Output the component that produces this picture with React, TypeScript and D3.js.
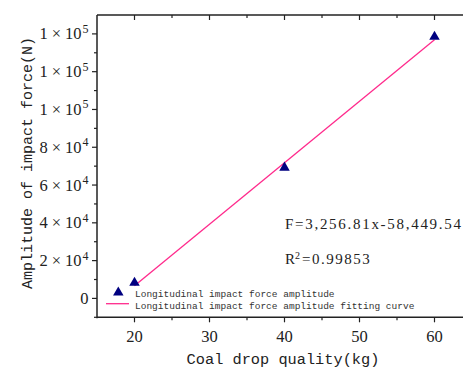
import React, { useEffect, useRef } from "react";
import * as d3 from "d3";

const massKg = [20, 40, 60];
const forceN = [8250, 69200, 138450];
const fitMass = [20, 60];
const fitForce = [6686.66, 136958.86];

const xTicks = [20, 30, 40, 50, 60];
const xMinorTicks = [25, 35, 45, 55];
const yTicks = [0, 20000, 40000, 60000, 80000, 100000, 120000, 140000];
const yMinorTicks = [-10000, 10000, 30000, 50000, 70000, 90000, 110000, 130000];
const yTickMantissa = ["0", "2", "4", "6", "8", "1", "1", "1"];
const yTickExponent = ["", "4", "4", "4", "4", "5", "5", "5"];

const legendLabels = [
  "Longitudinal impact force amplitude",
  "Longitudinal impact force amplitude fitting curve",
];
const xTitle = "Coal drop quality(kg)";
const yTitle = "Amplitude of impact force(N)";
const equationText = "F=3,256.81x-58,449.54";
const r2Value = "=0.99853";

const W = 463;
const H = 367;
const left = 97;
const right = 472;
const top = 15;
const bottom = 317.3;
const axisColor = "#222";
const markColor = "#000080";
const lineColor = "#ff2a8c";
const serif = "'Liberation Serif', 'Times New Roman', serif";
const mono = "'Liberation Mono', monospace";

export default function App() {
  const ref = useRef<SVGSVGElement>(null);

  useEffect(() => {
    const svg = d3.select(ref.current);
    svg.selectAll("*").remove();

    const x = d3.scaleLinear().domain([15, 65]).range([left, right]);
    const y = d3.scaleLinear().domain([-10000, 150000]).range([bottom, top]);

    svg.append("line").attr("x1", left).attr("x2", W).attr("y1", bottom).attr("y2", bottom)
      .attr("stroke", axisColor).attr("stroke-width", 1.5);
    svg.append("line").attr("x1", left).attr("x2", W).attr("y1", top).attr("y2", top)
      .attr("stroke", axisColor).attr("stroke-width", 1.5);
    svg.append("line").attr("x1", left).attr("x2", left).attr("y1", top).attr("y2", bottom + 1)
      .attr("stroke", axisColor).attr("stroke-width", 1.5);

    const g = svg.append("g");
    xTicks.forEach((v) => {
      g.append("line").attr("x1", x(v)).attr("x2", x(v)).attr("y1", bottom).attr("y2", bottom + 5)
        .attr("stroke", axisColor).attr("stroke-width", 1.2);
      g.append("line").attr("x1", x(v)).attr("x2", x(v)).attr("y1", top).attr("y2", top + 5)
        .attr("stroke", axisColor).attr("stroke-width", 1.2);
      g.append("text").attr("x", x(v)).attr("y", 341.5).attr("text-anchor", "middle")
        .attr("font-family", serif).attr("font-size", 16.5).attr("fill", "#222").text(String(v));
    });
    xMinorTicks.forEach((v) => {
      g.append("line").attr("x1", x(v)).attr("x2", x(v)).attr("y1", bottom).attr("y2", bottom + 3)
        .attr("stroke", axisColor).attr("stroke-width", 1.2);
      g.append("line").attr("x1", x(v)).attr("x2", x(v)).attr("y1", top).attr("y2", top + 3)
        .attr("stroke", axisColor).attr("stroke-width", 1.2);
    });

    yTicks.forEach((v, i) => {
      g.append("line").attr("x1", left - 5).attr("x2", left).attr("y1", y(v)).attr("y2", y(v))
        .attr("stroke", axisColor).attr("stroke-width", 1.2);
      const t = g.append("text").attr("x", 88.5).attr("y", y(v) + 5.5).attr("text-anchor", "end")
        .attr("font-family", serif).attr("font-size", 16.5).attr("fill", "#222");
      if (yTickExponent[i] === "") {
        t.text(yTickMantissa[i]);
      } else {
        t.append("tspan").text(yTickMantissa[i]);
        t.append("tspan").attr("dx", 4).text("×");
        t.append("tspan").attr("dx", 4).text("10");
        t.append("tspan").attr("dx", 1).attr("dy", -6.5).attr("font-size", 12).text(yTickExponent[i]);
      }
    });
    yMinorTicks.forEach((v) => {
      g.append("line").attr("x1", left - 3).attr("x2", left).attr("y1", y(v)).attr("y2", y(v))
        .attr("stroke", axisColor).attr("stroke-width", 1.2);
    });

    const line = d3.line<number>().x((d, i) => x(fitMass[i])).y((d) => y(d));
    svg.append("path").attr("d", line(fitForce) as string).attr("fill", "none")
      .attr("stroke", lineColor).attr("stroke-width", 1.3);

    const tri = d3.symbol().type(d3.symbolTriangle).size(48);
    massKg.forEach((m, i) => {
      svg.append("path").attr("d", tri() as string)
        .attr("transform", `translate(${x(m)},${y(forceN[i])})`).attr("fill", markColor);
    });

    svg.append("path").attr("d", tri() as string).attr("transform", "translate(118.3,292.5)")
      .attr("fill", markColor);
    svg.append("line").attr("x1", 106).attr("x2", 129).attr("y1", 303.7).attr("y2", 303.7)
      .attr("stroke", lineColor).attr("stroke-width", 1.3);
    legendLabels.forEach((l, i) => {
      svg.append("text").attr("x", 135).attr("y", 296.5 + i * 12).attr("font-family", mono)
        .attr("font-size", 9.5).attr("fill", "#333").text(l);
    });

    svg.append("text").attr("x", 285).attr("y", 228.5).attr("font-family", serif).attr("font-size", 15)
      .attr("fill", "#222").attr("textLength", 176).attr("lengthAdjust", "spacing").text(equationText);
    const r2 = svg.append("text").attr("x", 285).attr("y", 264).attr("font-family", serif)
      .attr("font-size", 15).attr("fill", "#222");
    r2.append("tspan").text("R");
    r2.append("tspan").attr("dy", -5).attr("font-size", 10).text("2");
    r2.append("tspan").attr("dy", 5).attr("dx", 2).attr("letter-spacing", 1.5).text(r2Value);

    svg.append("text").attr("x", 283).attr("y", 363.5).attr("text-anchor", "middle")
      .attr("font-family", mono).attr("font-size", 15.3).attr("fill", "#222").text(xTitle);
    svg.append("text").attr("transform", "translate(32,163) rotate(-90)").attr("text-anchor", "middle")
      .attr("font-family", mono).attr("font-size", 15).attr("fill", "#222").text(yTitle);
  }, []);

  return (
    <svg ref={ref} width={W} height={H}
      style={{ position: "absolute", left: 0, top: 0, background: "#fff" }} />
  );
}
